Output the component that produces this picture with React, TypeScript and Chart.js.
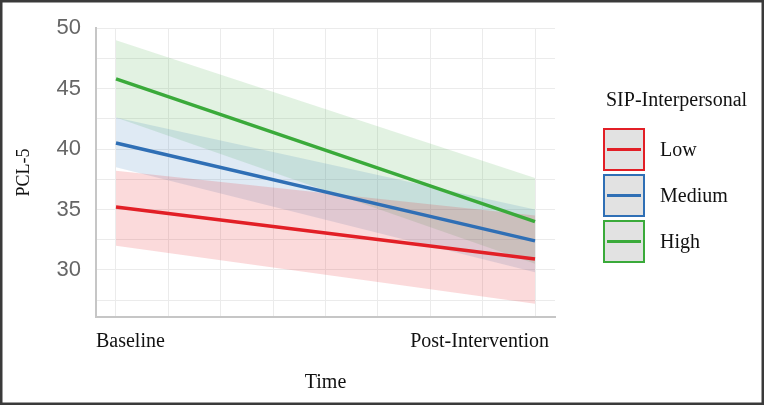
import React, { useEffect, useRef } from 'react';
import { Chart, registerables } from 'chart.js';

Chart.register(...registerables);

// ---- Data ----
const timeValues = [0, 1];
const timeLabels = ['Baseline', 'Post-Intervention'];
const groupNames = ['Low', 'Medium', 'High'];

const lowMean = [35.2, 30.9];
const lowUpper = [38.2, 34.5];
const lowLower = [32.0, 27.2];

const mediumMean = [40.5, 32.4];
const mediumUpper = [42.6, 35.0];
const mediumLower = [38.5, 29.8];

const highMean = [45.8, 34.0];
const highUpper = [49.0, 37.6];
const highLower = [42.6, 30.5];

const yTickValues = [27.5, 30, 32.5, 35, 37.5, 40, 42.5, 45, 47.5, 50];
const yTickLabels = ['', '30', '', '35', '', '40', '', '45', '', '50'];
const xGridValues = [0, 0.125, 0.25, 0.375, 0.5, 0.625, 0.75, 0.875, 1];

const legendTitle = 'SIP-Interpersonal';
const xTitle = 'Time';
const yTitle = 'PCL-5';

// ---- Styles ----
const lineColors = ['#e21f26', '#2f6fb5', '#3aaa3a'];
const bandColors = ['rgba(228,26,28,0.16)', 'rgba(55,126,184,0.16)', 'rgba(77,175,74,0.16)'];
const SERIF = "'Liberation Serif', 'Times New Roman', serif";
const SANS = "'Liberation Sans', Arial, sans-serif";

const means = [lowMean, mediumMean, highMean];
const uppers = [lowUpper, mediumUpper, highUpper];
const lowers = [lowLower, mediumLower, highLower];

const toPts = (arr: number[]) => arr.map((y, i) => ({ x: timeValues[i], y }));

const framePlugin = {
  id: 'frameAndLabels',
  beforeDraw(chart: any) {
    const ctx = chart.ctx;
    ctx.save();
    ctx.fillStyle = '#ffffff';
    ctx.fillRect(0, 0, chart.width, chart.height);
    ctx.restore();
  },
  afterDraw(chart: any) {
    const ctx = chart.ctx;
    const xs = chart.scales.x;
    const area = chart.chartArea;
    ctx.save();
    // x tick labels
    ctx.font = `20px ${SERIF}`;
    ctx.fillStyle = '#111111';
    ctx.textBaseline = 'alphabetic';
    const baseY = area.bottom + 30;
    ctx.textAlign = 'left';
    ctx.fillText(timeLabels[0], xs.getPixelForValue(timeValues[0]) - 20, baseY);
    ctx.textAlign = 'right';
    ctx.fillText(timeLabels[1], xs.getPixelForValue(timeValues[1]) + 14, baseY);

    // legend
    const lx = area.right + 48;
    ctx.textAlign = 'left';
    ctx.textBaseline = 'middle';
    ctx.fillText(legendTitle, lx + 3, 101);
    for (let i = 0; i < groupNames.length; i++) {
      const top = 128 + i * 46;
      const w = 42;
      const h = 43;
      ctx.fillStyle = '#e2e2e2';
      ctx.fillRect(lx, top, w, h);
      ctx.strokeStyle = lineColors[i];
      ctx.lineWidth = 2;
      ctx.strokeRect(lx + 1, top + 1, w - 2, h - 2);
      ctx.beginPath();
      ctx.lineWidth = 3;
      ctx.moveTo(lx + 4, top + h / 2);
      ctx.lineTo(lx + w - 4, top + h / 2);
      ctx.stroke();
      ctx.fillStyle = '#111111';
      ctx.fillText(groupNames[i], lx + 57, top + h / 2 + 1);
    }

    // frame
    ctx.strokeStyle = '#3a3a3a';
    ctx.lineWidth = 2.5;
    ctx.strokeRect(1.25, 1.25, chart.width - 2.5, chart.height - 2.5);
    ctx.restore();
  },
};

export default function App() {
  const ref = useRef<HTMLCanvasElement | null>(null);

  useEffect(() => {
    if (!ref.current) return;
    const datasets: any[] = [];
    groupNames.forEach((name, i) => {
      datasets.push({
        label: name,
        data: toPts(means[i]),
        borderColor: lineColors[i],
        borderWidth: 3.5,
        pointRadius: 0,
        fill: false,
        order: 0,
      });
    });
    groupNames.forEach((name, i) => {
      datasets.push({
        label: name + ' upper',
        data: toPts(uppers[i]),
        borderColor: 'transparent',
        borderWidth: 0,
        pointRadius: 0,
        backgroundColor: bandColors[i],
        fill: '+1',
        order: 1,
      });
      datasets.push({
        label: name + ' lower',
        data: toPts(lowers[i]),
        borderColor: 'transparent',
        borderWidth: 0,
        pointRadius: 0,
        fill: false,
        order: 1,
      });
    });

    const chart = new Chart(ref.current, {
      type: 'line',
      data: { datasets },
      options: {
        animation: false,
        responsive: false,
        devicePixelRatio: 1,
        layout: { padding: { top: 28, right: 209, left: 0, bottom: 0 } },
        plugins: {
          legend: { display: false },
          tooltip: { enabled: false },
        },
        scales: {
          x: {
            type: 'linear',
            min: -0.0477,
            max: 1.0477,
            afterBuildTicks: (s: any) => {
              s.ticks = xGridValues.map((v) => ({ value: v }));
            },
            grid: { color: '#ebebeb', lineWidth: 1, drawTicks: false },
            border: { display: true, color: '#c6c6c6', width: 2 },
            ticks: { display: false },
            title: {
              display: true,
              text: xTitle,
              color: '#111111',
              font: { family: SERIF, size: 20 },
              padding: { top: 0, bottom: 10 },
            },
            afterFit: (s: any) => {
              s.height = 88;
            },
          },
          y: {
            type: 'linear',
            min: 26.1,
            max: 50,
            afterBuildTicks: (s: any) => {
              s.ticks = yTickValues.map((v) => ({ value: v }));
            },
            grid: { color: '#ebebeb', lineWidth: 1, drawTicks: false },
            border: { display: true, color: '#c6c6c6', width: 2 },
            ticks: {
              color: '#666666',
              font: { family: SANS, size: 22 },
              padding: 15,
              callback: (value: any) => {
                const idx = yTickValues.indexOf(Number(value));
                return idx >= 0 ? yTickLabels[idx] : '';
              },
            },
            title: {
              display: true,
              text: yTitle,
              color: '#111111',
              font: { family: SERIF, size: 18 },
              padding: { top: 13, bottom: 0 },
            },
            afterFit: (s: any) => {
              s.width = 96;
            },
          },
        },
      },
      plugins: [framePlugin],
    } as any);
    return () => chart.destroy();
  }, []);

  return (
    <div style={{ position: 'fixed', left: 0, top: 0, width: 764, height: 405, background: '#fff' }}>
      <canvas ref={ref} width={764} height={405} style={{ display: 'block' }} />
    </div>
  );
}
